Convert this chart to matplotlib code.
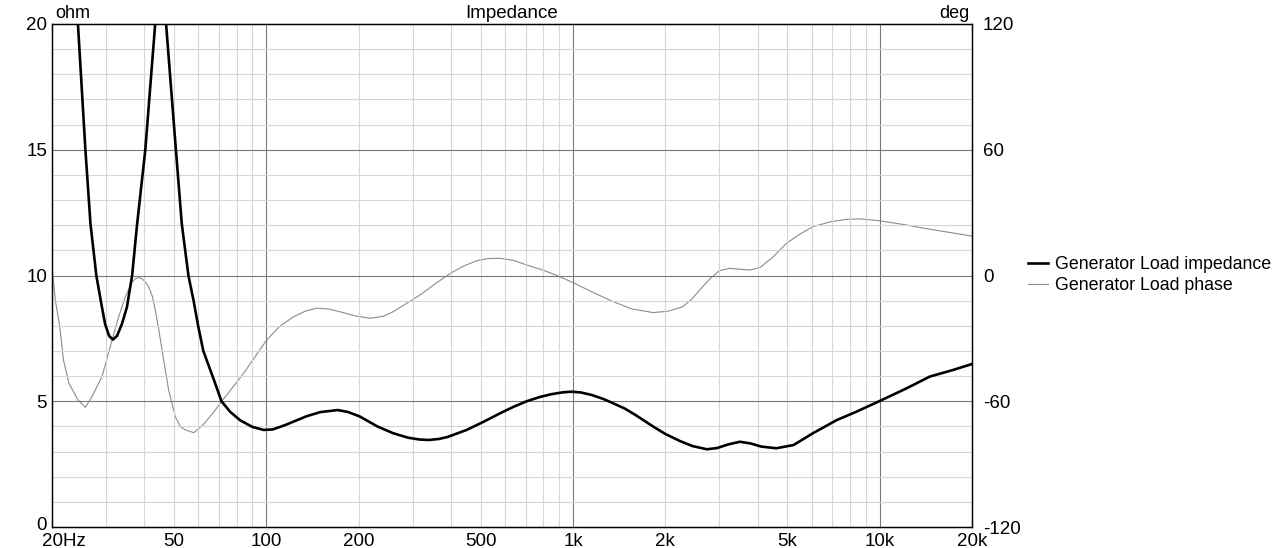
import matplotlib
matplotlib.use("Agg")
import matplotlib.pyplot as plt
from matplotlib.transforms import ScaledTranslation

plt.rcParams['font.family'] = ['Liberation Sans', 'DejaVu Sans']
plt.rcParams['axes.unicode_minus'] = False

# impedance magnitude (Hz, ohm)
imp_freq = [20, 22, 24.3, 25.7, 26.7, 27.9, 29.1, 29.8, 30.7, 31.6, 32.6, 33.8, 35.1,
            36.5, 37.9, 40.3, 43.4, 45.2, 47.1, 50.7, 53, 55.7, 57.9, 60, 62.3, 67.5,
            71.4, 76.2, 82, 90, 98, 105, 115, 122.6, 135, 150, 171, 185, 202, 230,
            259, 290, 315, 338, 365, 390, 450, 510, 578, 640, 706, 780, 850, 920, 986,
            1060, 1150, 1250, 1352, 1480, 1600, 1828, 2000, 2230, 2450, 2733, 2950,
            3200, 3500, 3800, 4100, 4600, 5240, 6060, 7240, 8380, 10000, 12220, 14560,
            17300, 20000]
imp_ohm = [32, 26, 20, 15, 12.05, 10, 8.74, 8.07, 7.6, 7.45, 7.6, 8.07, 8.74,
           10, 12.05, 15, 20, 24, 20, 15, 12.05, 10, 9.0, 7.96, 7.0, 5.84,
           5.0, 4.58, 4.25, 3.98, 3.86, 3.88, 4.05, 4.19, 4.4, 4.57, 4.65, 4.57, 4.39, 4.0,
           3.73, 3.55, 3.48, 3.46, 3.5, 3.58, 3.86, 4.18, 4.52, 4.78, 5.0, 5.17, 5.28, 5.35, 5.38,
           5.35, 5.25, 5.1, 4.92, 4.7, 4.45, 3.99, 3.7, 3.42, 3.22, 3.09, 3.14,
           3.28, 3.39, 3.32, 3.2, 3.13, 3.26, 3.73, 4.25, 4.58, 5.01, 5.51, 5.98,
           6.24, 6.48]

# impedance phase (Hz, deg)
ph_freq = [20, 20.5, 21.2, 21.8, 22.7, 24.3, 25.7, 27.0, 29.1, 31.4, 33, 34.7,
           36.5, 37.5, 38.3, 39.2, 40, 41.3, 42.5, 43.5, 44.6, 45.7, 48, 50.5, 52.4,
           54.5, 58, 62.2, 67.5, 71.4, 84, 100, 110, 122.6, 134, 146, 160, 174, 195,
           218, 240, 259, 285, 317, 355, 398, 440, 486, 530, 578, 640, 706, 790,
           880, 1000, 1160, 1352, 1560, 1828, 2050, 2280, 2450, 2600, 2800, 3000,
           3246, 3500, 3780, 4080, 4500, 4970, 5500, 6060, 6900, 7800, 8630, 10000,
           12000, 14000, 20000]
ph_deg = [4, -11.7, -24.4, -40.3, -51.4, -59.4, -62.9, -57.8, -48.3, -30.8, -19.7, -10.1,
          -3, -1.5, -1, -1.5, -2.5, -5.3, -10, -17, -26, -35.5, -54.6, -67.4, -72.1,
          -73.7, -75, -71.3, -65, -60.2, -47, -31, -24.5, -19.7, -17, -15.6, -16, -17.3, -19.3,
          -20.4, -19.5, -17.3, -13.5, -9.3, -4, 1, 4.5, 7.1, 8.1, 8.2, 7.2, 5.0, 2.8,
          0.2, -3.4, -8, -12.5, -16, -17.7, -17, -14.9, -11, -6.6, -1.5, 2.3,
          3.4, 3.0, 2.6, 3.9, 9, 15.4, 19.8, 23.3, 25.6, 26.8, 27.0, 26.1,
          24.3, 22.5, 18.8]

xticks = [20, 50, 100, 200, 500, 1000, 2000, 5000, 10000, 20000]
xtick_labels = ["20Hz", "50", "100", "200", "500", "1k", "2k", "5k", "10k", "20k"]

fig = plt.figure(figsize=(12.79, 5.48), dpi=100)
ax = fig.add_axes([52 / 1279, 1 - 527 / 548, 920 / 1279, 503 / 548])

ax.set_xscale("log")
ax.set_xlim(20, 20000)
ax.set_ylim(0, 20)

# grid: light minor, darker major
minor_x = [f * d for d in (10, 100, 1000) for f in range(2, 10)]
minor_x = [m for m in minor_x if 20 < m < 20000]
for m in minor_x:
    ax.axvline(m, color="#d6d6d6", lw=0.8, zorder=0)
for m in (100, 1000, 10000):
    ax.axvline(m, color="#7a7a7a", lw=0.8, zorder=0)
for v in range(1, 20):
    c = "#7a7a7a" if v % 5 == 0 else "#d6d6d6"
    ax.axhline(v, color=c, lw=0.8, zorder=0)

ax.set_xticks(xticks)
ax.set_xticklabels(xtick_labels)
ax.xaxis.set_minor_locator(plt.NullLocator())
ax.set_yticks([0, 5, 10, 15, 20])
ax.tick_params(axis="x", length=0, labelsize=13.5, pad=4)
ax.tick_params(axis="y", length=0, labelsize=13.5, pad=3.5)
for s in ax.spines.values():
    s.set_linewidth(1)

lab = ax.get_xticklabels()[0]
lab.set_ha("left")
lab.set_transform(lab.get_transform() + ScaledTranslation(-10 / 100, 0, fig.dpi_scale_trans))
zero = ax.get_yticklabels()[0]
zero.set_transform(zero.get_transform() + ScaledTranslation(0, 3 / 100, fig.dpi_scale_trans))

ax2 = ax.twinx()
ax2.set_ylim(-120, 120)
ax2.set_yticks([-120, -60, 0, 60, 120])
ax2.tick_params(length=0, labelsize=13.5, pad=8)

l2, = ax2.plot(ph_freq, ph_deg, color="#8c8c8c", lw=0.8, label="Generator Load phase")
l1, = ax.plot(imp_freq, imp_ohm, color="black", lw=1.9, label="Generator Load impedance")
ax.set_zorder(ax2.get_zorder() + 1)
ax.patch.set_visible(False)

ax.text(0.003, 1.003, "ohm", transform=ax.transAxes, ha="left", va="bottom", fontsize=13)
ax.text(0.997, 1.003, "deg", transform=ax.transAxes, ha="right", va="bottom", fontsize=13)
ax.text(0.5, 1.003, "Impedance", transform=ax.transAxes, ha="center", va="bottom", fontsize=13.5)

fig.legend(handles=[l1, l2], loc="center left", bbox_to_anchor=(1012 / 1279, 1 - 275 / 548),
           frameon=False, fontsize=12.8, handlelength=1.15, handletextpad=0.35,
           labelspacing=0.25)

plt.savefig("out.png", dpi=100)
